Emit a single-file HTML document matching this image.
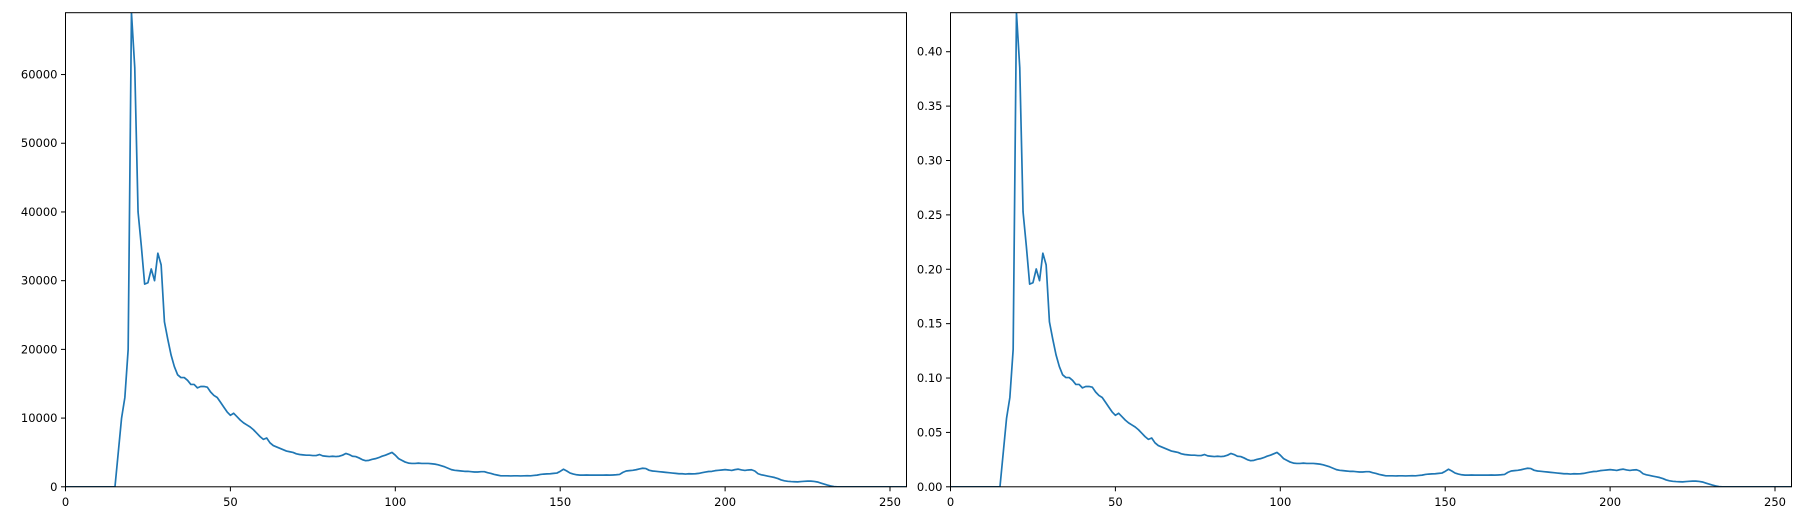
<!DOCTYPE html>
<html><head><meta charset="utf-8"><style>
html,body{margin:0;padding:0;background:#fff;}
svg{display:block;font-family:"DejaVu Sans","Liberation Sans",sans-serif;}
</style></head><body>
<svg id="chart" width="1808" height="512" viewBox="0 0 1808 512"></svg>
<script>
const bins = Array.from({length:256},(_,i)=>i);
const counts = [
0,0,0,0,0,0,0,0,0,0,0,0,0,0,0,0,5000,10000,13000,20000,
69000,61000,40000,35000,29500,29700,31700,30000,34000,32300,24000,21500,19200,17500,16300,15900,15900,15500,14900,14900,
14400,14600,14600,14500,13800,13300,13000,12300,11600,10900,10400,10700,10200,9700,9300,9000,8700,8300,7800,7300,
6900,7100,6400,6000,5800,5600,5400,5200,5100,5000,4800,4700,4650,4600,4600,4550,4550,4700,4500,4450,
4400,4450,4400,4450,4600,4850,4700,4450,4400,4200,3950,3800,3850,4000,4100,4250,4450,4600,4800,5000,
4600,4100,3850,3600,3450,3400,3400,3450,3400,3400,3400,3350,3300,3200,3050,2900,2700,2500,2400,2350,
2300,2250,2250,2200,2150,2150,2200,2200,2050,1950,1800,1700,1600,1600,1600,1580,1600,1600,1580,1600,
1620,1600,1650,1700,1800,1850,1880,1900,1950,2000,2250,2550,2300,2000,1850,1750,1700,1700,1720,1700,
1700,1710,1700,1700,1720,1700,1720,1750,1800,2100,2300,2350,2400,2480,2600,2700,2650,2400,2300,2250,
2200,2150,2100,2050,2000,1950,1900,1900,1850,1900,1880,1900,1950,2050,2150,2230,2250,2350,2400,2450,
2500,2450,2380,2500,2570,2450,2380,2450,2480,2300,1900,1750,1650,1550,1450,1350,1200,1000,870,800,
760,740,720,760,800,830,830,780,700,550,400,250,120,30,0,0,0,0,0,0,
0,0,0,0,0,0,0,0,0,0,0,0,0,0,0,0];
const densityScale = 158300;
const density = counts.map(v=>v/densityScale);
const xTicks = [0,50,100,150,200,250];
const countTicks = [0,10000,20000,30000,40000,50000,60000];
const densityTicks = [0,0.05,0.10,0.15,0.20,0.25,0.30,0.35,0.40];

const NS="http://www.w3.org/2000/svg";
const svg=document.getElementById('chart');
function mk(tag,attrs,parent){const e=document.createElementNS(NS,tag);for(const k in attrs)e.setAttribute(k,attrs[k]);(parent||svg).appendChild(e);return e;}

function panel(name,x0,x1,y0,y1,values,ticks,fmt){
  const g=mk('g',{});
  
  
  const xmax=255, ymax=Math.max(...values);
  const sx=v=>x0+(v/xmax)*(x1-x0);
  const sy=v=>y1-(v/ymax)*(y1-y0);
  const clipId=name+'-clip';
  const cp=mk('clipPath',{id:clipId},g);
  mk('rect',{x:x0,y:y0,width:x1-x0,height:y1-y0},cp);
  const pts=bins.map((b,i)=>sx(b).toFixed(2)+','+sy(values[i]).toFixed(2)).join(' ');
  const line=mk('polyline',{points:pts,fill:'none',stroke:'#1f77b4','stroke-width':1.7,'stroke-linejoin':'round','clip-path':'url(#'+clipId+')'},g);
  
  
  xTicks.forEach(t=>{
    const x=sx(t);
    mk('line',{x1:x,x2:x,y1:y1,y2:y1+4.5,stroke:'#000','stroke-width':1},g);
    const tx=mk('text',{x:x,y:y1+19,'font-size':11.5,'text-anchor':'middle',fill:'#000'},g);
    tx.textContent=t;
    
    
  });
  ticks.forEach(t=>{
    const y=sy(t);
    mk('line',{x1:x0-4.5,x2:x0,y1:y,y2:y,stroke:'#000','stroke-width':1},g);
    const tx=mk('text',{x:x0-8,y:y+4,'font-size':11.5,'text-anchor':'end',fill:'#000'},g);
    tx.textContent=fmt(t);
    
    
  });
  const fr=mk('rect',{x:x0,y:y0,width:x1-x0,height:y1-y0,fill:'none',stroke:'#000','stroke-width':1},g);
  
  
}
panel('count-histogram-panel',65.5,906.5,12.7,486.8,counts,countTicks,t=>String(t));
panel('density-histogram-panel',950.5,1791.5,12.7,486.8,density,densityTicks,t=>t.toFixed(2));
</script>
</body></html>
